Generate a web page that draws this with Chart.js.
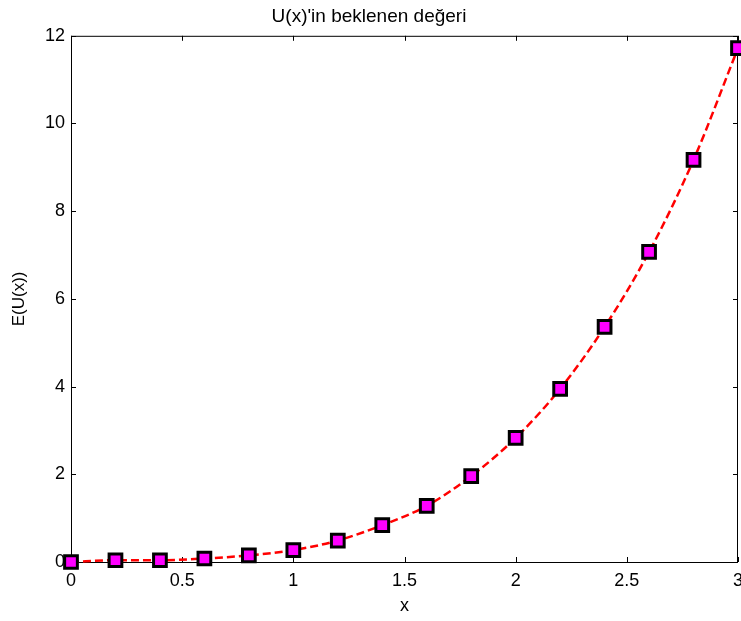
<!DOCTYPE html>
<html>
<head>
<meta charset="utf-8">
<script src="https://cdn.jsdelivr.net/npm/chart.js@4/dist/chart.umd.min.js"></script>
<style>
  html, body { margin: 0; padding: 0; background: #fff; }
  #wrap { width: 741px; height: 621px; }
</style>
</head>
<body>
<div id="wrap"><canvas id="c"></canvas></div>
<script>
// E(U(x)) sampled at x = 0 .. 3
var xs = [0, 0.2, 0.4, 0.6, 0.8, 1.0, 1.2, 1.4, 1.6, 1.8, 2.0, 2.2, 2.4, 2.6, 2.8, 3.0];
var eu = [0, 0.04, 0.04, 0.08, 0.15, 0.27, 0.49, 0.84, 1.28, 1.96, 2.83, 3.95, 5.36, 7.07, 9.17, 11.72];
var xTicks = [0, 0.5, 1, 1.5, 2, 2.5, 3];
var yTicks = [0, 2, 4, 6, 8, 10, 12];

var fontFam = "'Liberation Sans', Arial, Helvetica, sans-serif";

var pts = xs.map(function (x, i) { return { x: x, y: eu[i] }; });

// box + inward tick marks on all four sides
var boxTicks = {
  id: 'boxTicks',
  beforeDatasetsDraw: function (chart) {
    var a = chart.chartArea, ctx = chart.ctx;
    var sx = chart.scales.x, sy = chart.scales.y;
    var len = 5;
    ctx.save();
    ctx.strokeStyle = '#000';
    ctx.lineWidth = 1;
    ctx.strokeRect(a.left + 0.5, a.top + 0.5, a.right - a.left - 1, a.bottom - a.top);
    ctx.beginPath();
    xTicks.forEach(function (v) {
      var px = Math.round(sx.getPixelForValue(v)) + 0.5;
      ctx.moveTo(px, a.bottom); ctx.lineTo(px, a.bottom - len);
      ctx.moveTo(px, a.top); ctx.lineTo(px, a.top + len);
    });
    yTicks.forEach(function (v) {
      var py = Math.round(sy.getPixelForValue(v)) + 0.5;
      ctx.moveTo(a.left, py); ctx.lineTo(a.left + len, py);
      ctx.moveTo(a.right, py); ctx.lineTo(a.right - len, py);
    });
    ctx.stroke();
    ctx.restore();
  }
};

new Chart(document.getElementById('c'), {
  type: 'line',
  data: {
    datasets: [{
      data: pts,
      borderColor: '#ff0000',
      borderWidth: 2.5,
      borderDash: [8, 4],
      cubicInterpolationMode: 'monotone',
      pointStyle: 'rect',
      pointRadius: 9,
      pointBorderWidth: 3,
      pointBackgroundColor: '#ff00ff',
      pointBorderColor: '#000',
      clip: false
    }]
  },
  options: {
    responsive: true,
    maintainAspectRatio: false,
    animation: false,
    layout: { autoPadding: false, padding: { left: 0, right: 3, top: 0, bottom: 0 } },
    plugins: {
      legend: { display: false },
      tooltip: { enabled: false },
      title: {
        display: true,
        text: "U(x)'in beklenen değeri",
        color: '#000',
        font: { family: fontFam, size: 19, weight: 'normal' },
        padding: { top: 5, bottom: 8 }
      }
    },
    scales: {
      x: {
        type: 'linear',
        min: 0, max: 3,
        afterBuildTicks: function (s) { s.ticks = xTicks.map(function (v) { return { value: v }; }); },
        afterFit: function (s) { s.height = 59; s.paddingRight = 0; s.paddingLeft = 0; },
        grid: { display: false, drawTicks: false },
        border: { display: false },
        ticks: {
          color: '#000', padding: 8, maxRotation: 0,
          font: { family: fontFam, size: 18 },
          callback: function (v) { return String(v); }
        },
        title: { display: true, text: 'x', color: '#000', padding: { top: 0, bottom: 4 }, font: { family: fontFam, size: 18 } }
      },
      y: {
        type: 'linear',
        min: 0, max: 12,
        afterBuildTicks: function (s) { s.ticks = yTicks.map(function (v) { return { value: v }; }); },
        afterFit: function (s) { s.width = 71; s.paddingTop = 0; s.paddingBottom = 0; },
        grid: { display: false, drawTicks: false },
        border: { display: false },
        ticks: {
          color: '#000', padding: 6,
          font: { family: fontFam, size: 18 },
          callback: function (v) { return String(v); }
        },
        title: { display: true, text: 'E(U(x))', color: '#000', padding: { top: 9, bottom: 0 }, font: { family: fontFam, size: 17 } }
      }
    }
  },
  plugins: [boxTicks]
});
</script>
</body>
</html>
